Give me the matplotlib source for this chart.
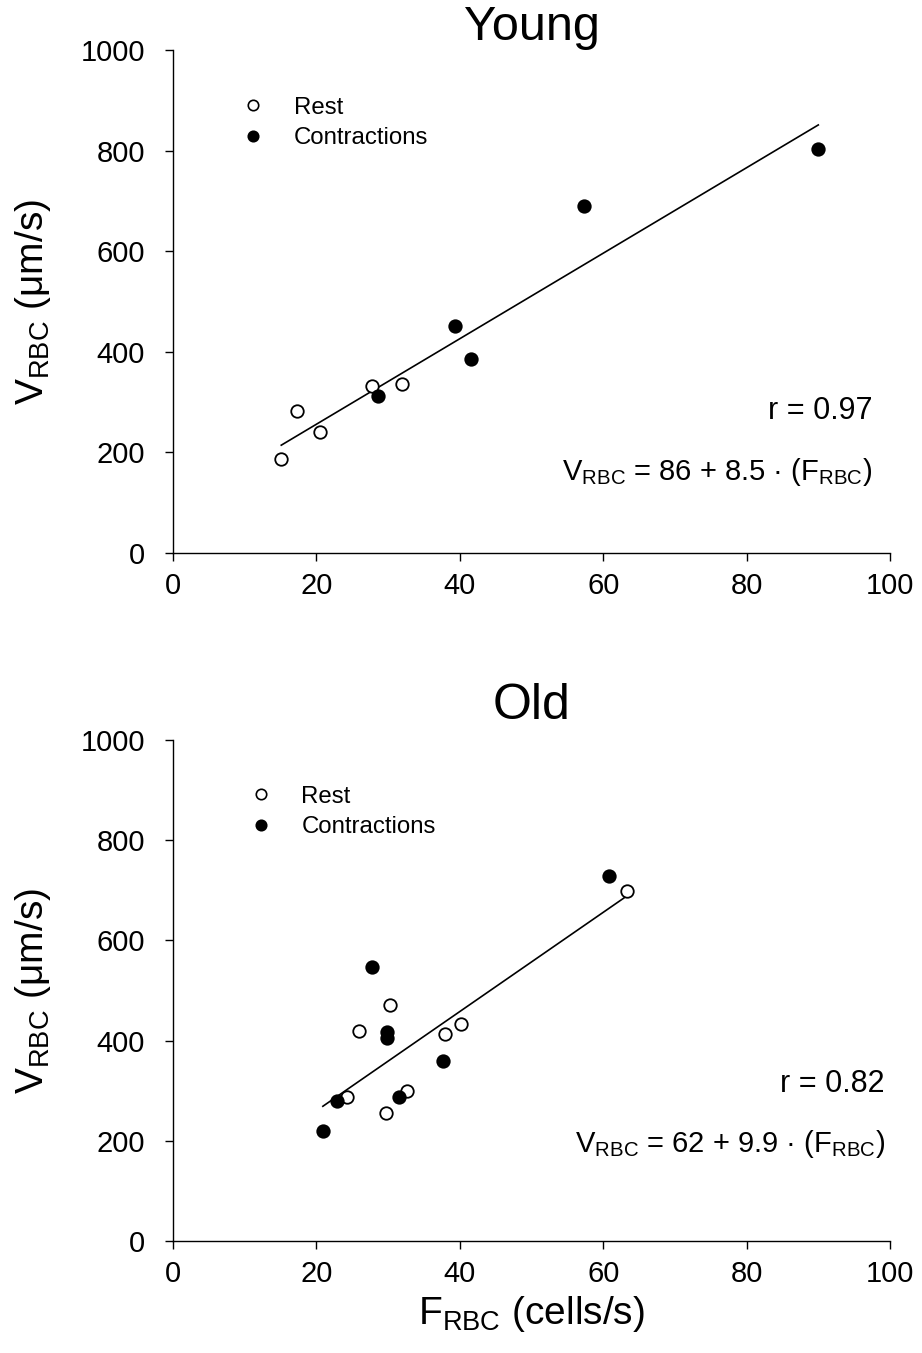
import matplotlib
matplotlib.use("Agg")
import matplotlib.pyplot as plt
from matplotlib.lines import Line2D

plt.rcParams['font.family'] = ['Liberation Sans', 'DejaVu Sans']
plt.rcParams['mathtext.fontset'] = 'custom'
plt.rcParams['mathtext.rm'] = 'Liberation Sans'
plt.rcParams['mathtext.it'] = 'Liberation Sans'
plt.rcParams['mathtext.default'] = 'regular'

# Young data
young_rest_x = [15.1, 17.3, 20.5, 27.8, 31.9]
young_rest_y = [187, 282, 240, 332, 336]
young_con_x = [28.6, 39.3, 41.6, 57.3, 90.0]
young_con_y = [312, 451, 386, 690, 803]
young_fit = (86, 8.5)
young_fit_range = [15.1, 90.0]
young_r = "0.97"

# Old data
old_rest_x = [25.9, 30.2, 37.9, 40.1, 32.7, 29.7, 24.2, 63.3]
old_rest_y = [419, 471, 413, 433, 299, 255, 287, 699]
old_con_x = [27.7, 29.8, 29.9, 37.6, 31.5, 22.9, 20.9, 60.8]
old_con_y = [546, 418, 405, 359, 288, 280, 220, 729]
old_fit = (62, 9.9)
old_fit_range = [20.9, 63.3]
old_r = "0.82"

xticks = [0, 20, 40, 60, 80, 100]
yticks = [0, 200, 400, 600, 800, 1000]

fig = plt.figure(figsize=(9.22, 13.53), dpi=100)
W, H = 922, 1353

def make_ax(top_px, bottom_px):
    left, right = 173, 890
    return fig.add_axes([left / W, 1 - bottom_px / H, (right - left) / W, (bottom_px - top_px) / H])

panels = [
    dict(ax=make_ax(50, 553), title="Young", tsize=35, tpad=-3, rx=young_rest_x, ry=young_rest_y,
         cx=young_con_x, cy=young_con_y, fit=young_fit, frange=young_fit_range, r=young_r,
         xlab=False, leg=(0.081, 0.926), rpos=(0.975, 0.282), epos=(0.975, 0.162)),
    dict(ax=make_ax(740, 1241), title="Old", tsize=36, tpad=15, rx=old_rest_x, ry=old_rest_y,
         cx=old_con_x, cy=old_con_y, fit=old_fit, frange=old_fit_range, r=old_r,
         xlab=True, leg=(0.092, 0.928), rpos=(0.993, 0.313), epos=(0.993, 0.194)),
]

for p in panels:
    ax = p['ax']
    a, b = p['fit']
    frange = p['frange']
    ax.plot(frange, [a + b * frange[0], a + b * frange[1]], color='black', lw=1.2, zorder=2)
    ax.plot(p['rx'], p['ry'], 'o', ms=9, mfc='white', mec='black', mew=1.3, ls='none', zorder=3, clip_on=False)
    ax.plot(p['cx'], p['cy'], 'o', ms=9, mfc='black', mec='black', mew=1.3, ls='none', zorder=3, clip_on=False)
    ax.set_xlim(0, 100)
    ax.set_ylim(0, 1000)
    ax.set_xticks(xticks)
    ax.set_yticks(yticks)
    ax.tick_params(direction='out', length=6, width=1, labelsize=21)
    ax.tick_params(axis='y', pad=14)
    ax.tick_params(axis='x', pad=8)
    for s in ['top', 'right']:
        ax.spines[s].set_visible(False)
    for s in ['left', 'bottom']:
        ax.spines[s].set_linewidth(1)
    ax.set_title(p['title'], fontsize=p['tsize'], pad=p['tpad'])
    ax.set_ylabel(r'V$_{RBC}$ (μm/s)', fontsize=28, labelpad=20)
    if p['xlab']:
        ax.set_xlabel(r'F$_{RBC}$ (cells/s)', fontsize=28, labelpad=4)
    handles = [
        Line2D([], [], marker='o', ls='none', ms=7.5, mfc='white', mec='black', mew=1.2),
        Line2D([], [], marker='o', ls='none', ms=7.5, mfc='black', mec='black', mew=1.2),
    ]
    ax.legend(handles, ['Rest', 'Contractions'], loc='upper left', bbox_to_anchor=p['leg'],
              borderaxespad=0, frameon=False, fontsize=17.3, handlelength=1.0,
              handletextpad=1.2, labelspacing=0.35)
    ax.text(p['rpos'][0], p['rpos'][1], f"r = {p['r']}", transform=ax.transAxes,
            ha='right', va='center', fontsize=22)
    ax.text(p['epos'][0], p['epos'][1], r'V$_{RBC}$ = ' + f'{a} + {b} · ' + r'(F$_{RBC}$)',
            transform=ax.transAxes, ha='right', va='center', fontsize=21)

fig.savefig('out.png', dpi=100)
